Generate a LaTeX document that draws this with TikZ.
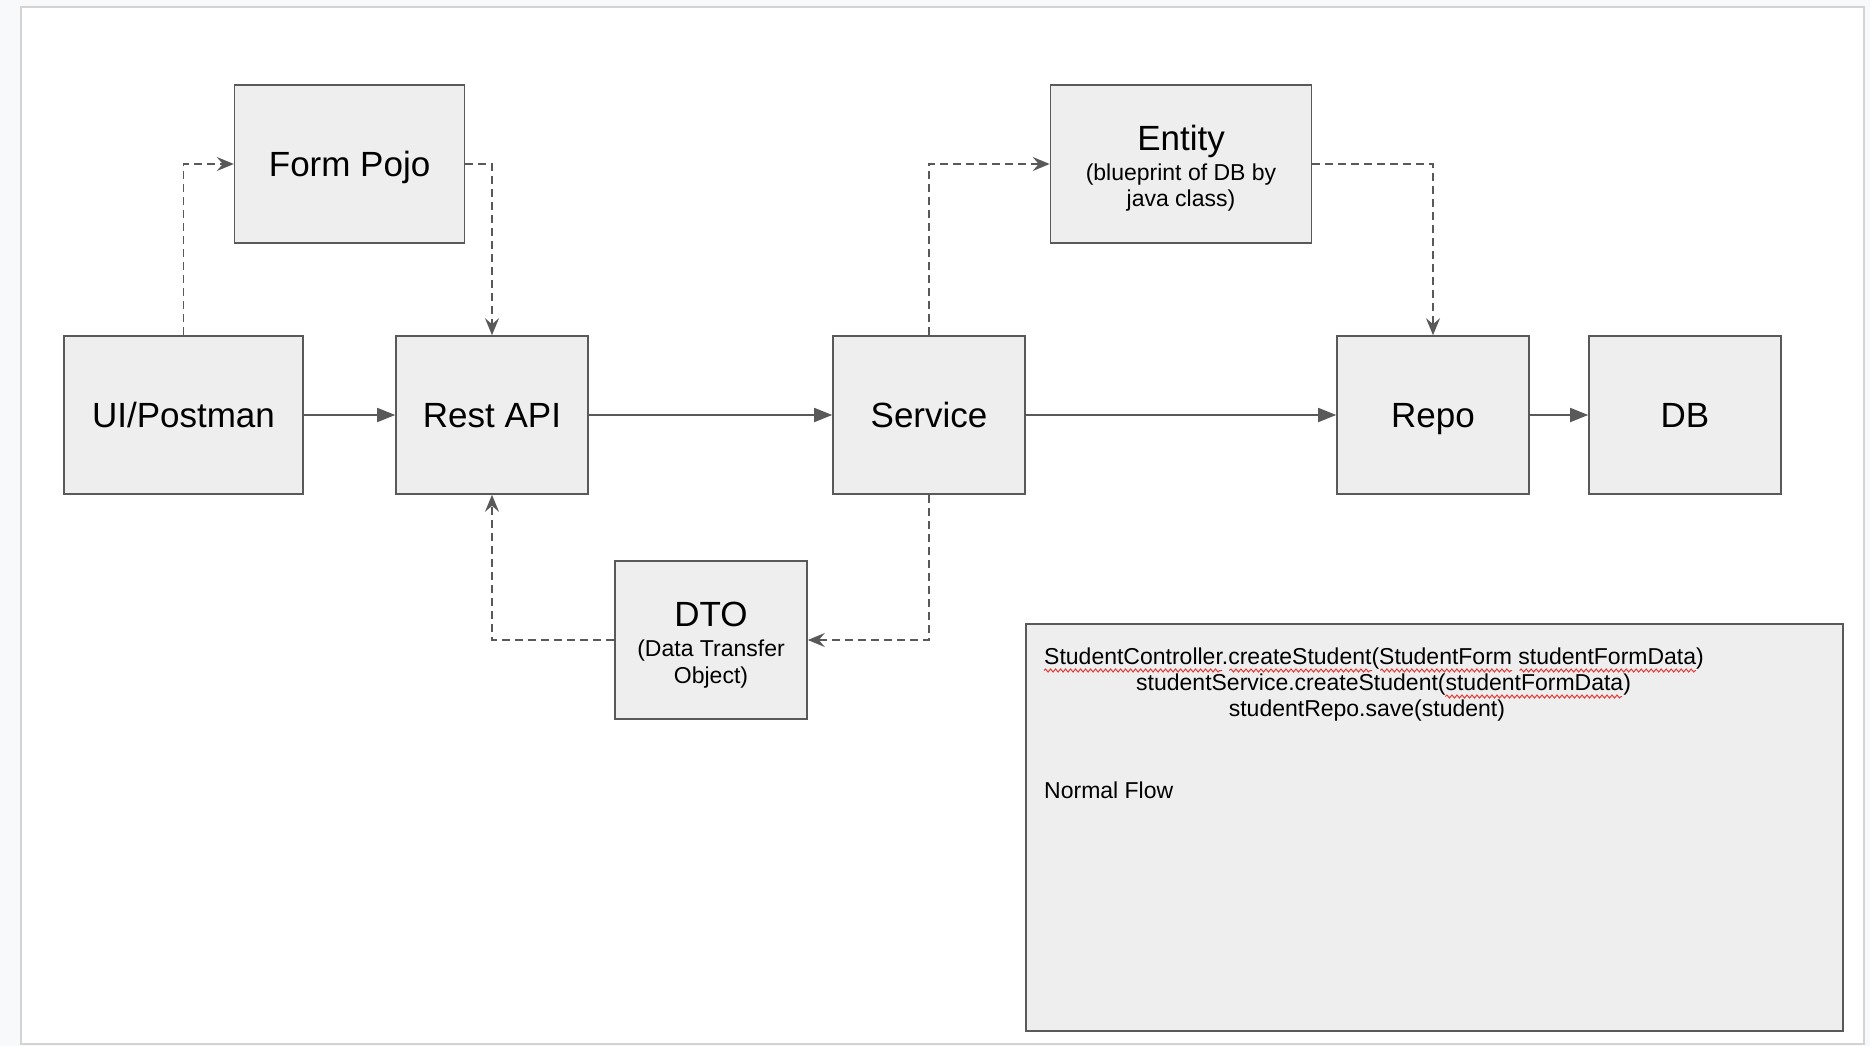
\documentclass[tikz,border=0pt]{standalone}
\usepackage{fontspec}
\setmainfont{Liberation Sans}
\usetikzlibrary{arrows.meta,decorations.pathmorphing}
\definecolor{linec}{HTML}{595959}
\definecolor{boxfill}{HTML}{EEEEEE}
\definecolor{pagebg}{HTML}{F8F9FA}
\definecolor{pageedge}{HTML}{D3D3D3}
\definecolor{squig}{HTML}{E53935}
\begin{document}
\begin{tikzpicture}[x=1pt,y=-1pt,
  box/.style={draw=linec,fill=boxfill,line width=1.6pt,rectangle,minimum height=158pt,inner sep=0pt,text height=25pt,text depth=0pt,font=\fontsize{35}{40}\selectfont},
  big/.style={font=\fontsize{35}{40}\selectfont,anchor=base,inner sep=0pt},
  small/.style={font=\fontsize{23}{26}\selectfont,anchor=base,inner sep=0pt},
  flow/.style={draw=linec,line width=1.8pt,-{Triangle[length=18pt,width=14pt]}},
  dflow/.style={draw=linec,line width=1.8pt,dash pattern=on 8pt off 5pt,-{Stealth[length=17pt,width=14pt,inset=6pt]}},
  notetext/.style={font=\fontsize{23}{26}\selectfont,anchor=base west,inner sep=0pt},
  squiggle/.style={draw=squig,line width=1pt,decorate,decoration={snake,segment length=5pt,amplitude=1.5pt}}
]
\useasboundingbox (0,0) rectangle (1870,1046);
\fill[pagebg] (0,0) rectangle (1870,1046);
\draw[pageedge,line width=2pt,fill=white] (21,7) rectangle (1864,1044);

% boxes
\node[box,minimum width=239pt] (ui) at (183.5,415) {UI/Postman};
\node[box,minimum width=230pt] (form) at (349.6,164) {Form Pojo};
\node[box,minimum width=192pt] (rest) at (492,415) {Rest API};
\node[box,minimum width=192pt] (svc) at (929,415) {Service};
\node[box,minimum width=261pt] (ent) at (1181,164) {};
\node[box,minimum width=192pt] (repo) at (1433,415) {Repo};
\node[box,minimum width=192pt] (db) at (1685,415) {DB};
\node[box,minimum width=192pt] (dto) at (711,640) {};

\node[big] (entT) at ([yshift=14pt]ent.center) {Entity};
\node[small] (entS1) at ([yshift=-16pt]ent.center) {(blueprint of DB by};
\node[small] (entS2) at ([yshift=-42.5pt]ent.center) {java class)};

\node[big] (dtoT) at ([yshift=13.5pt]dto.center) {DTO};
\node[small] (dtoS1) at ([yshift=-16.5pt]dto.center) {(Data Transfer};
\node[small] (dtoS2) at ([yshift=-43pt]dto.center) {Object)};

% note box
\node[draw=linec,fill=boxfill,line width=2.2pt,minimum width=816.6pt,minimum height=407pt,inner sep=0pt,anchor=north west] (note) at (1025,623) {};
\node[notetext] (n1) at (1044,664) {StudentController.createStudent(StudentForm studentFormData)};
\node[notetext] (n2) at (1136,690) {studentService.createStudent(studentFormData)};
\node[notetext] (n3) at (1228.6,716) {studentRepo.save(student)};
\node[notetext] (n4) at (1044,798) {Normal Flow};

\draw[squiggle] (1044,670.5) -- (1222,670.5);
\draw[squiggle] (1229.4,670.5) -- (1372,670.5);
\draw[squiggle] (1380.3,670.5) -- (1512,670.5);
\draw[squiggle] (1519.6,670.5) -- (1696,670.5);
\draw[squiggle] (1445.4,696.5) -- (1622,696.5);

% connectors
\draw[flow] (ui.east) -- (rest.west);
\draw[flow] (rest.east) -- (svc.west);
\draw[flow] (svc.east) -- (repo.west);
\draw[flow] (repo.east) -- (db.west);
\draw[dflow] (ui.north) |- (form.west);
\draw[dflow] (form.east) -| (rest.north);
\draw[dflow] (svc.north) |- (ent.west);
\draw[dflow] (ent.east) -| (repo.north);
\draw[dflow] (svc.south) |- (dto.east);
\draw[dflow] (dto.west) -| (rest.south);
\end{tikzpicture}
\end{document}
